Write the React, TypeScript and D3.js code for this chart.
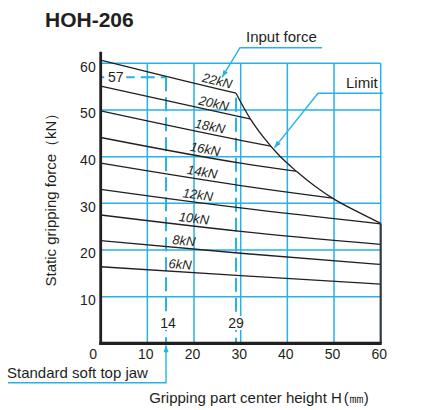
import React from "react";
import * as d3 from "d3";

// ---------- data ----------
const hTicks = [0, 10, 20, 30, 40, 50, 60];
const fTicks = [10, 20, 30, 40, 50, 60];
const forceLabels = ["22kN", "20kN", "18kN", "16kN", "14kN", "12kN", "10kN", "8kN", "6kN"];
const curveH = [0, 30, 60];
const f22 = [60.7, 53.4, 47.0];
const f20 = [55.1, 48.5, 42.0];
const f18 = [49.8, 43.5, 38.0];
const f16 = [44.1, 38.6, 34.5];
const f14 = [38.6, 33.8, 29.8];
const f12 = [33.0, 29.0, 25.6];
const f10 = [27.5, 24.0, 21.2];
const f8 = [22.0, 19.3, 16.9];
const f6 = [16.4, 14.5, 12.7];
const forceSeries = [f22, f20, f18, f16, f14, f12, f10, f8, f6];
const labelAtH = [24.6, 23.9, 23.1, 22.1, 21.5, 20.6, 19.8, 17.7, 16.9];
const limitH = [29, 32, 35, 38, 42, 46, 50, 55, 60];
const limitF = [53.6, 48.2, 44.0, 40.5, 36.8, 33.6, 30.9, 28.2, 25.7];
const jawH = 14;
const jawMaxF = 57;
const limitStartH = 29;

const BLUE = "#27b1e6";
const INK = "#231f20";
const FONT = "'Liberation Sans', Arial, Helvetica, sans-serif";

export default function App() {
  const x = d3.scaleLinear().domain([0, 60]).range([100.7, 380.7]);
  const y = d3.scaleLinear().domain([0, 60]).range([343.3, 63.3]);

  const limitPts = limitH.map((h, i) => ({ h, f: limitF[i] }));
  const limitLine = d3
    .line<{ h: number; f: number }>()
    .x((d) => x(d.h))
    .y((d) => y(d.f))
    .curve(d3.curveMonotoneX);
  const limitArea = d3
    .area<{ h: number; f: number }>()
    .x((d) => x(d.h))
    .y0(y(0) + 6)
    .y1((d) => y(d.f))
    .curve(d3.curveMonotoneX);

  const seriesLine = d3
    .line<number>()
    .x((_, i) => x(curveH[i]))
    .y((v) => y(v))
    .curve(d3.curveMonotoneX);

  const limitEndF = limitF[limitF.length - 1];
  const limitAt = d3.scaleLinear().domain(limitH).range(limitF);

  const arrowHead = (fx: number, fy: number, tx: number, ty: number, len = 7, w = 2.6) => {
    const a = Math.atan2(ty - fy, tx - fx);
    const bx = tx - len * Math.cos(a);
    const by = ty - len * Math.sin(a);
    const px = -Math.sin(a) * w;
    const py = Math.cos(a) * w;
    return `${tx},${ty} ${bx + px},${by + py} ${bx - px},${by - py}`;
  };

  // annotation anchors
  const limitTipH = 37;
  const limitTip = { x: x(limitTipH) + 1, y: y(limitAt(limitTipH)) - 1 };
  const inputTip = { x: x(26.0), y: y(57.0) };

  return (
    <svg
      width={430}
      height={410}
      style={{ position: "absolute", left: 0, top: 0, background: "#fff" }}
      fontFamily={FONT}
    >
      <defs>
        <clipPath id="belowLimit">
          <rect x={x(0) - 5} y={y(70)} width={x(limitStartH) - x(0) + 5} height={y(0) - y(70) + 6} />
          <path d={limitArea(limitPts) || ""} />
        </clipPath>
      </defs>

      {/* title */}
      <text x={45} y={26.7} fontSize={21} fontWeight="bold" fill={INK}>
        HOH-206
      </text>

      {/* grid */}
      {fTicks.map((t) => (
        <line key={"h" + t} x1={x(0)} x2={x(60)} y1={y(t)} y2={y(t)} stroke={BLUE} strokeWidth={1.5} />
      ))}
      {hTicks.slice(1, -1).map((t) => (
        <line key={"v" + t} x1={x(t)} x2={x(t)} y1={y(60)} y2={y(0)} stroke={BLUE} strokeWidth={1.5} />
      ))}
      <line x1={x(60)} x2={x(60)} y1={y(60)} y2={y(limitEndF)} stroke={BLUE} strokeWidth={1.5} />

      {/* dashed reference lines */}
      <line x1={x(0)} x2={x(jawH)} y1={y(jawMaxF)} y2={y(jawMaxF)} stroke={BLUE} strokeWidth={2} strokeDasharray="14 6" />
      <line x1={x(jawH)} x2={x(jawH)} y1={y(jawMaxF)} y2={y(0)} stroke={BLUE} strokeWidth={2} strokeDasharray="14 6" />
      <line x1={x(limitStartH)} x2={x(limitStartH)} y1={y(52.6)} y2={y(0)} stroke={BLUE} strokeWidth={2} strokeDasharray="14 6" />

      {/* input-force curves */}
      <g clipPath="url(#belowLimit)">
        {forceSeries.map((s, i) => (
          <path key={forceLabels[i]} d={seriesLine(s) || ""} fill="none" stroke={INK} strokeWidth={1.3} />
        ))}
      </g>

      {/* limit curve */}
      <path d={limitLine(limitPts) || ""} fill="none" stroke={INK} strokeWidth={1.3} />
      <line x1={x(60)} x2={x(60)} y1={y(limitEndF)} y2={y(0)} stroke="#2f3a40" strokeWidth={2.2} />

      {/* curve labels */}
      {forceSeries.map((s, i) => {
        const interp = d3.scaleLinear().domain(curveH).range(s);
        const h = labelAtH[i];
        const px = x(h);
        const py = y(interp(h));
        const ang = (Math.atan2(y(interp(h + 1)) - y(interp(h - 1)), x(h + 1) - x(h - 1)) * 180) / Math.PI;
        return (
          <text
            key={"l" + i}
            transform={`translate(${px},${py}) rotate(${ang})`}
            dy={-3}
            textAnchor="middle"
            fontSize={13}
            fontStyle="italic"
            fill={INK}
          >
            {forceLabels[i]}
          </text>
        );
      })}

      {/* reference value labels */}
      <rect x={x(0) + 3.5} y={y(jawMaxF) - 8} width={22} height={16} fill="#fff" />
      <text x={x(0) + 15} y={y(jawMaxF) + 5} textAnchor="middle" fontSize={14} fill={INK}>
        {jawMaxF}
      </text>
      <rect x={x(jawH) - 7} y={316} width={17} height={14} fill="#fff" />
      <text x={x(jawH) + 2} y={328} textAnchor="middle" fontSize={14} fill={INK}>
        {jawH}
      </text>
      <rect x={x(limitStartH) - 8} y={316} width={17} height={14} fill="#fff" />
      <text x={x(limitStartH)} y={328} textAnchor="middle" fontSize={14} fill={INK}>
        {limitStartH}
      </text>

      {/* axes */}
      <line x1={x(0)} x2={x(0)} y1={51.7} y2={y(0) + 1.5} stroke={INK} strokeWidth={2.8} />
      <line x1={x(0) - 1.4} x2={x(60) + 1} y1={y(0)} y2={y(0)} stroke={INK} strokeWidth={3.2} />

      {/* tick labels */}
      {fTicks.map((t) => (
        <text key={"yt" + t} x={x(0) - 5} y={y(t) + 8.3} textAnchor="end" fontSize={14} fill={INK}>
          {t}
        </text>
      ))}
      {hTicks.map((t) => (
        <text key={"xt" + t} x={x(t) - (t === 0 ? 7.5 : 1.5)} y={358.5} textAnchor="middle" fontSize={14} fill={INK}>
          {t}
        </text>
      ))}

      {/* axis titles */}
      <text transform="translate(55.5,196) rotate(-90)" textAnchor="middle" fontSize={15} fill={INK}>
        Static gripping force（kN）
      </text>
      <text x={259} y={403} textAnchor="middle" fontSize={15} fill={INK}>
        Gripping part center height H<tspan dx={2}>(㎜)</tspan>
      </text>

      {/* annotations */}
      <text x={246} y={42} fontSize={15} fill={INK}>
        Input force
      </text>
      <polyline points={`322,47.7 240,47.7 ${inputTip.x},${inputTip.y}`} fill="none" stroke={BLUE} strokeWidth={1.4} />
      <polygon points={arrowHead(240, 47.7, inputTip.x, inputTip.y)} fill={BLUE} />

      <text x={346} y={88} fontSize={15} fill={INK}>
        Limit
      </text>
      <polyline points={`383,93.3 318,93.3 ${limitTip.x},${limitTip.y}`} fill="none" stroke={BLUE} strokeWidth={1.4} />
      <polygon points={arrowHead(318, 93.3, limitTip.x, limitTip.y)} fill={BLUE} />

      <text x={7} y={378} fontSize={15} fill={INK}>
        Standard soft top jaw
      </text>
      <polyline points={`8,382.7 ${x(jawH)},382.7 ${x(jawH)},${y(0) + 2}`} fill="none" stroke={BLUE} strokeWidth={1.4} />
      <polygon points={arrowHead(x(jawH), 382.7, x(jawH), y(0) + 2)} fill={BLUE} />
    </svg>
  );
}
